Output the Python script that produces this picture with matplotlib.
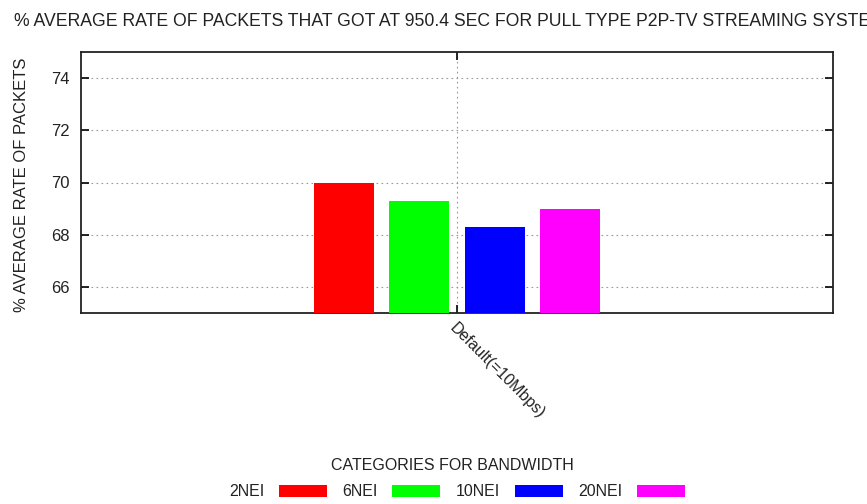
import matplotlib
matplotlib.use("Agg")
import matplotlib.pyplot as plt
import numpy as np

plt.rcParams['font.family'] = ['Liberation Sans', 'DejaVu Sans']

categories = ["Default(=10Mbps)"]
series_names = ["2NEI", "6NEI", "10NEI", "20NEI"]
series_values = [[70.0], [69.3], [68.3], [69.0]]
colors = ["#ff0000", "#00ff00", "#0000ff", "#ff00ff"]
yticks = [66, 68, 70, 72, 74]

fig = plt.figure(figsize=(8.67, 5.04), dpi=100)
ax = fig.add_axes([81/867, 1-313/504, (833-81)/867, (313-52)/504])

x = np.arange(len(categories))
width = 0.16
offsets = [-0.3, -0.1, 0.1, 0.3]
for name, vals, off, c in zip(series_names, series_values, offsets, colors):
    ax.bar(x + off, vals, width=width, color=c, label=name, zorder=3)

ax.set_xlim(-1, 1)
ax.set_ylim(65, 75)
ax.set_yticks(yticks)
ax.set_yticklabels([str(t) for t in yticks], fontsize=12)
ax.set_xticks(x)
ax.set_xticklabels(categories, rotation=-45, ha='left', va='top',
                   rotation_mode='anchor', fontsize=11.5)
ax.tick_params(axis='both', direction='in', length=6, width=1.2,
               top=True, right=True, colors='black', labelcolor='#222222', pad=8)
ax.tick_params(axis='x', pad=5)
ax.grid(True, linestyle=(0, (1.5, 3)), color='#999999', linewidth=0.8, zorder=0)
for s in ax.spines.values():
    s.set_linewidth(1.3)
    s.set_color('#222222')

ax.set_ylabel("% AVERAGE RATE OF PACKETS", fontsize=12, color='#222222')
ax.yaxis.set_label_coords(-(81-29)/752, 0.49)
ax.set_xlabel("CATEGORIES FOR BANDWIDTH", fontsize=11.5, color='#222222')
ax.xaxis.set_label_coords((452-81)/752, -(458-313)/261)

fig.text(14/867, 1-22/504, "% AVERAGE RATE OF PACKETS THAT GOT AT 950.4 SEC FOR PULL TYPE P2P-TV STREAMING SYSTEM",
         fontsize=12.7, color='#222222', ha='left', va='center')

leg = fig.legend(loc='center', bbox_to_anchor=(457/867, 1-492/504), ncol=4,
                 frameon=False, markerfirst=False, handlelength=3.0,
                 handletextpad=0.9, columnspacing=1.0, fontsize=11.5,
                 handleheight=0.7)
for t in leg.get_texts():
    t.set_color('#222222')

fig.savefig("out.png", dpi=100)
